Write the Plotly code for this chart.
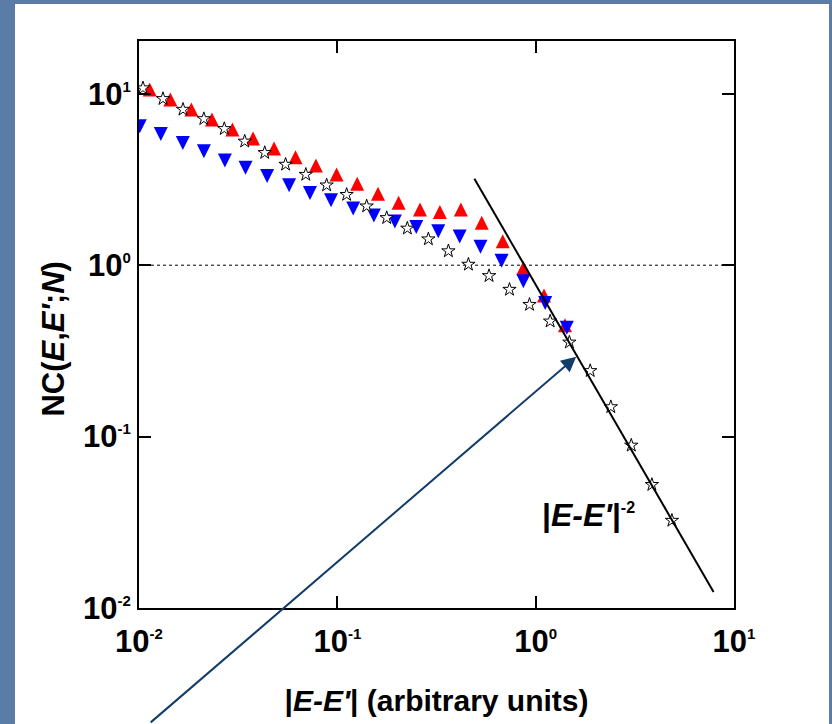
import plotly.graph_objects as go

# |E-E'| values and NC(E,E';N) for the three data sets
star_x = [0.01047, 0.01321, 0.01667, 0.02123, 0.02692, 0.03412, 0.04305, 0.05483,
          0.06934, 0.08831, 0.1114, 0.1406, 0.1774, 0.2254, 0.2877, 0.3631, 0.4581,
          0.5821, 0.7379, 0.9311, 1.183, 1.479, 1.884, 2.393, 3.034, 3.855, 4.864]
star_y = [10.8, 9.35, 8.10, 7.14, 6.25, 5.28, 4.53, 3.87, 3.38, 2.93, 2.58, 2.21,
          1.89, 1.64, 1.42, 1.21, 1.01, 0.867, 0.721, 0.589, 0.471, 0.355, 0.242,
          0.149, 0.0889, 0.0524, 0.0324]

red_x = [0.01132, 0.01439, 0.01837, 0.02333, 0.02958, 0.03758, 0.04797, 0.06152,
         0.07798, 0.09908, 0.1259, 0.1603, 0.2037, 0.2612, 0.3289, 0.4198, 0.5346,
         0.6823, 0.8670, 1.102, 1.406]
red_y = [10.6, 9.26, 8.10, 7.08, 6.19, 5.49, 4.80, 4.27, 3.81, 3.38, 2.99, 2.61,
         2.31, 2.11, 2.04, 2.11, 1.77, 1.38, 0.964, 0.665, 0.446]

blue_x = [0.01009, 0.01288, 0.01663, 0.02123, 0.02710, 0.03443, 0.04426, 0.05715,
          0.07278, 0.09290, 0.1202, 0.1528, 0.1950, 0.2500, 0.3228, 0.4140, 0.5272,
          0.6730, 0.8670, 1.117, 1.436]
blue_y = [6.47, 5.83, 5.17, 4.62, 4.08, 3.70, 3.31, 2.93, 2.64, 2.39, 2.14, 1.95,
          1.80, 1.67, 1.58, 1.47, 1.28, 1.06, 0.805, 0.602, 0.431]

# |E-E'|^-2 guide line end points
fit_x = [0.491, 7.89]
fit_y = [3.19, 0.0124]

# horizontal reference level NC = 1
ref_x = [0.01, 10]
ref_y = [1, 1]

tick_vals = [0.01, 0.1, 1, 10]
tick_exponents = ["-2", "-1", "0", "1"]

SANS = "Liberation Sans, Arial, sans-serif"
SLIDE_BLUE = "#5b7ca6"
ARROW_BLUE = "#123d6b"


def power_label(exp):
    return "<b>10<sup><span style='font-size:15px'>%s</span></sup></b>" % exp


tick_text = [power_label(e) for e in tick_exponents]

fig = go.Figure()

fig.add_trace(go.Scatter(
    x=ref_x, y=ref_y, mode="lines",
    line=dict(color="black", width=1, dash="dot"),
    hoverinfo="skip", showlegend=False))

# up-pointing triangles (arrow-down rotated, pushed back to be centred)
fig.add_trace(go.Scatter(
    x=red_x, y=red_y, mode="markers",
    marker=dict(symbol="arrow-down", angle=180, standoff=7, size=14,
                color="#ff0000", line=dict(width=0)),
    showlegend=False))

# down-pointing triangles
fig.add_trace(go.Scatter(
    x=blue_x, y=blue_y, mode="markers",
    marker=dict(symbol="arrow-down", angle=0, standoff=7, size=14,
                color="#0000ff", line=dict(width=0)),
    showlegend=False))

fig.add_trace(go.Scatter(
    x=star_x, y=star_y, mode="markers",
    marker=dict(symbol="star", size=10, color="white",
                line=dict(color="black", width=1)),
    showlegend=False))

fig.add_trace(go.Scatter(
    x=fit_x, y=fit_y, mode="lines",
    line=dict(color="black", width=2),
    hoverinfo="skip", showlegend=False))

axis_common = dict(
    type="log", showgrid=False, zeroline=False,
    showline=True, linecolor="black", linewidth=2, mirror="ticks",
    ticks="inside", ticklen=12, tickwidth=2, tickcolor="black",
    tickvals=tick_vals, ticktext=tick_text,
    tickfont=dict(family=SANS, size=31, color="black"),
)

fig.update_xaxes(**axis_common, range=[-2, 1], ticklabelstandoff=5,
                 title=dict(text="<b>|<i>E-E'</i>| (arbitrary units)</b>",
                            font=dict(family=SANS, size=30, color="black"),
                            standoff=32))
fig.update_yaxes(**axis_common, range=[-2, 1.308])

fig.update_layout(
    width=832, height=724,
    margin=dict(l=139, r=98, t=41, b=116),
    paper_bgcolor=SLIDE_BLUE,
    plot_bgcolor="white",
    shapes=[dict(type="rect", xref="paper", yref="paper",
                 x0=-0.2084, x1=1.1597, y0=-0.25, y1=1.0653,
                 fillcolor="white", line=dict(width=0), layer="below")],
    annotations=[
        dict(text="<b>NC(<i>E</i>,<i>E'</i>;<i>N</i>)</b>", textangle=-90,
             xref="paper", yref="paper", x=-0.143, y=0.475,
             xanchor="center", yanchor="middle", showarrow=False,
             font=dict(family=SANS, size=31, color="black")),
        dict(text="<b>|<i>E-E'</i>|<sup><span style='font-size:16px'>-2</span></sup></b>",
             xref="x", yref="y", x=0.0227, y=-1.456,
             xanchor="left", yanchor="middle", showarrow=False,
             font=dict(family=SANS, size=32, color="black")),
        dict(text="", xref="x", yref="y",
             x=0.2044, y=-0.5336,
             showarrow=True, arrowhead=2, arrowsize=1.5, arrowwidth=2,
             arrowcolor=ARROW_BLUE, ax=-427, ay=367),
    ],
)

fig.write_html("out.html")
